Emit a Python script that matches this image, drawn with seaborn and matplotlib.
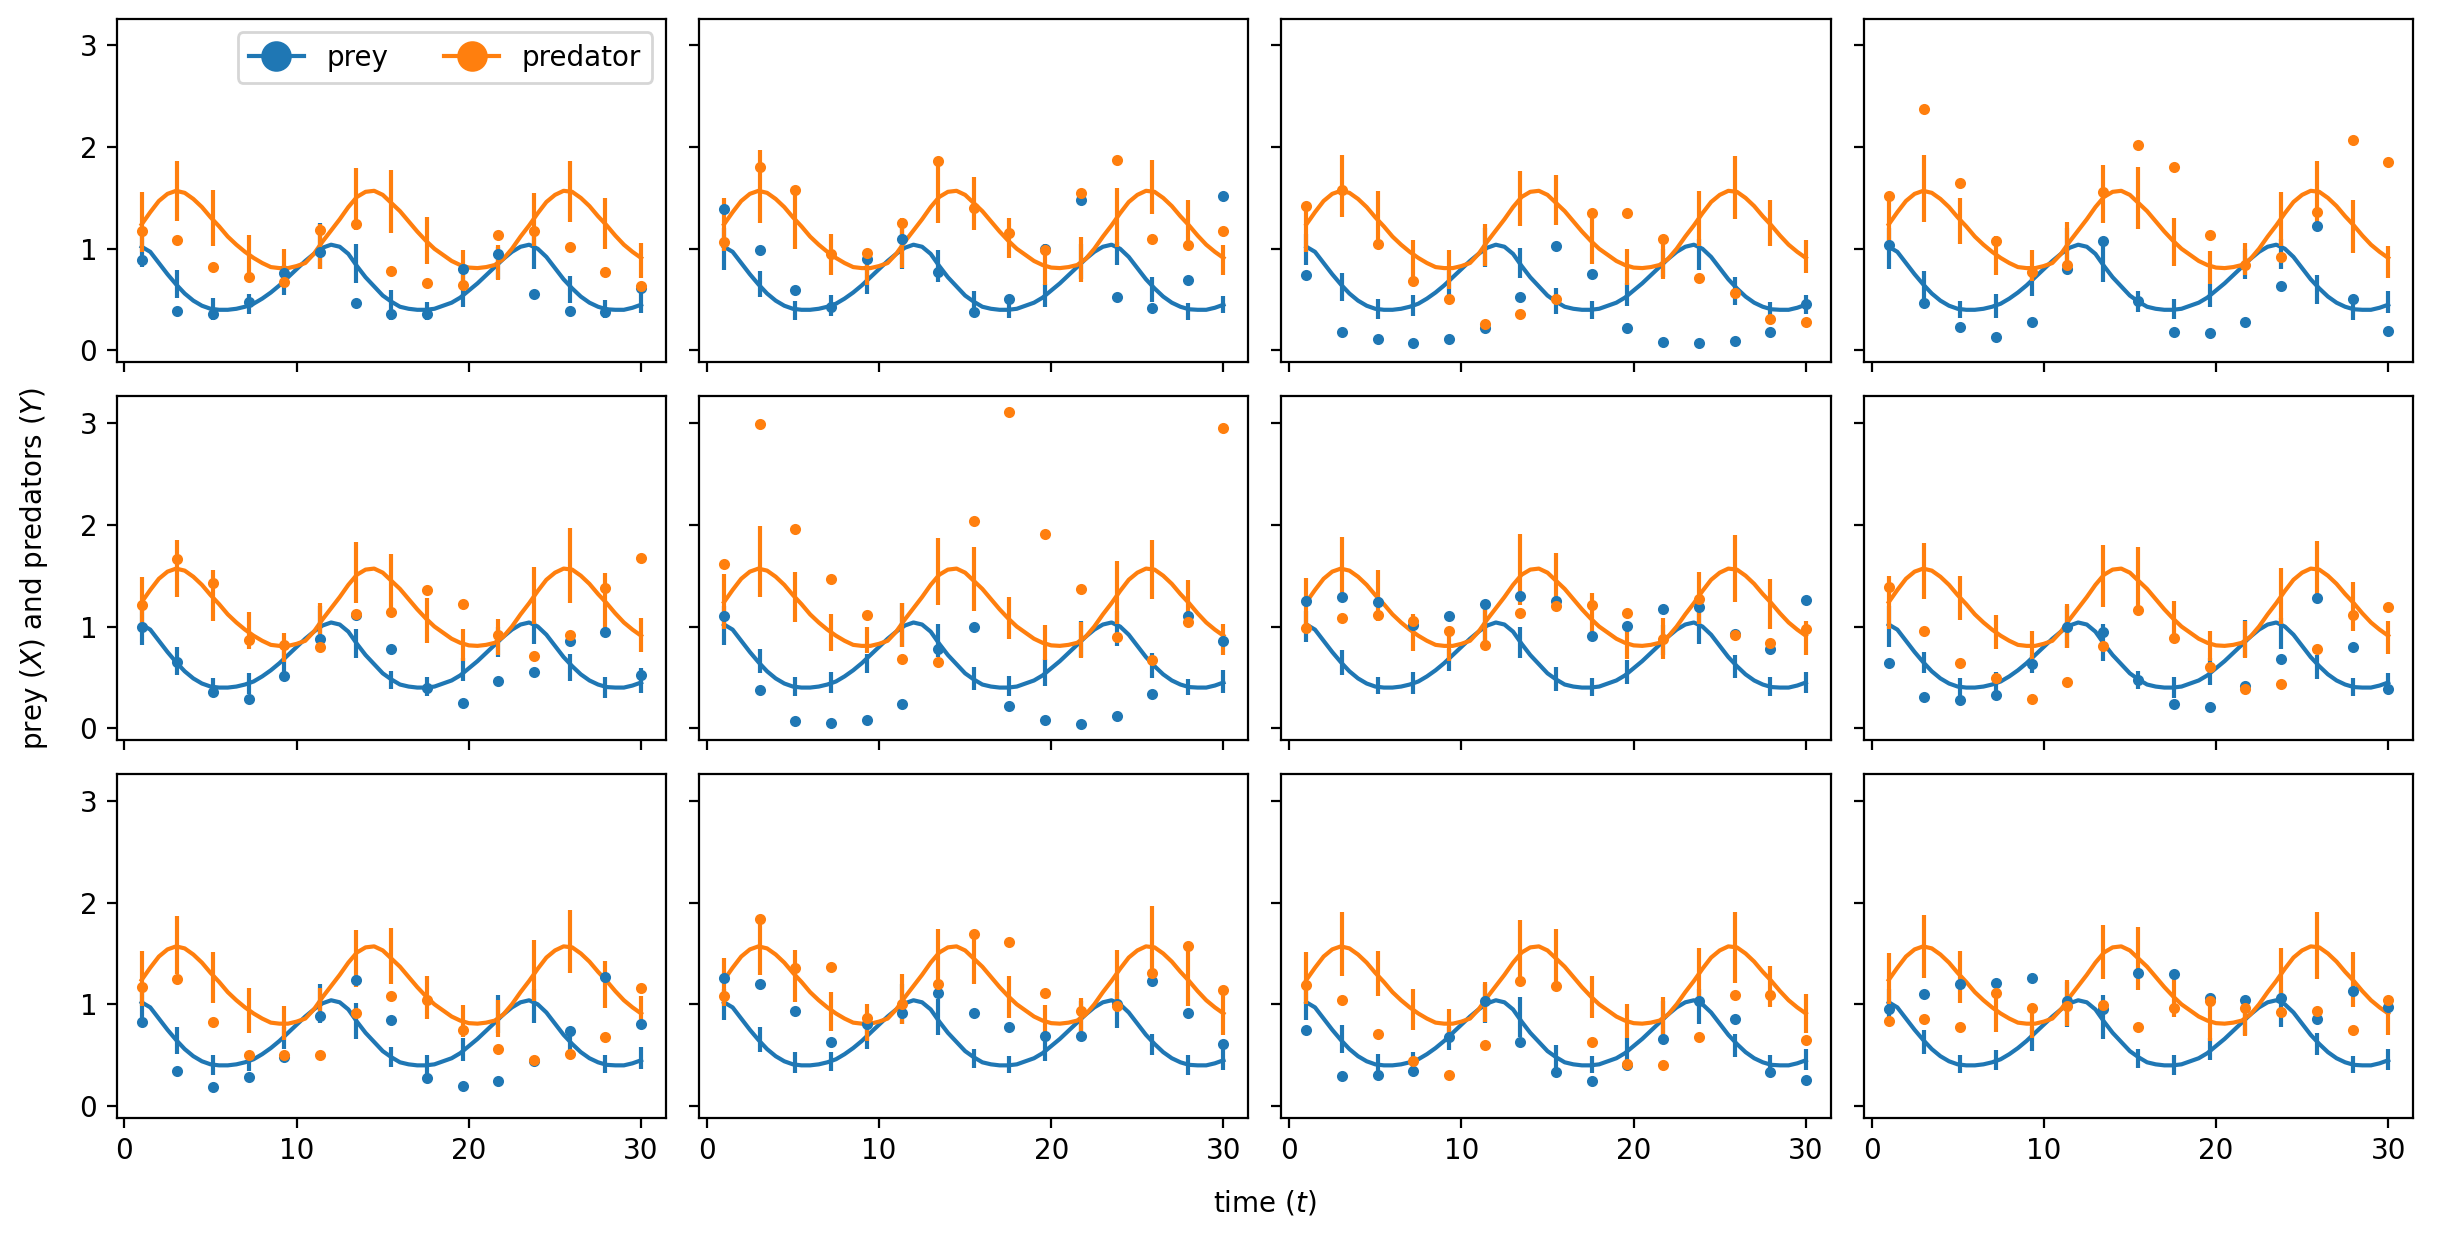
import numpy as np
import matplotlib
matplotlib.use("Agg")
import matplotlib.pyplot as plt
from matplotlib.lines import Line2D
import seaborn as sns

# --- data ------------------------------------------------------------------
# observation times
t_obs = [1.0, 3.07, 5.14, 7.21, 9.29, 11.36, 13.43, 15.5, 17.57, 19.64,
         21.71, 23.79, 25.86, 27.93, 30.0]

# model curve, sampled every 0.5 time units (same in every panel)
t_fine = np.arange(1.0, 30.01, 0.5)
prey_curve = [1.02, 0.97, 0.86, 0.75, 0.65, 0.56, 0.49, 0.44, 0.41, 0.40,
              0.40, 0.41, 0.43, 0.46, 0.51, 0.57, 0.64, 0.72, 0.80, 0.88,
              0.95, 1.01, 1.04, 1.02, 0.95, 0.83, 0.72, 0.63, 0.54, 0.48,
              0.43, 0.41, 0.40, 0.40, 0.41, 0.44, 0.47, 0.52, 0.59, 0.66,
              0.74, 0.82, 0.90, 0.97, 1.02, 1.04, 1.00, 0.92, 0.81, 0.70,
              0.61, 0.53, 0.47, 0.43, 0.405, 0.40, 0.40, 0.42, 0.45]
pred_curve = [1.24, 1.36, 1.47, 1.54, 1.57, 1.55, 1.49, 1.41, 1.31, 1.22,
              1.12, 1.04, 0.97, 0.91, 0.86, 0.82, 0.81, 0.81, 0.83, 0.86,
              0.95, 1.07, 1.18, 1.29, 1.41, 1.51, 1.56, 1.57, 1.53, 1.45,
              1.37, 1.27, 1.17, 1.08, 1.00, 0.94, 0.88, 0.84, 0.815, 0.81,
              0.82, 0.84, 0.90, 1.00, 1.12, 1.23, 1.35, 1.46, 1.53, 1.57,
              1.56, 1.50, 1.42, 1.32, 1.23, 1.13, 1.04, 0.97, 0.91]

# observed points, one list per panel (row by row)
prey_obs = [
    [0.89, 0.39, 0.36, 0.48, 0.76, 0.97, 0.47, 0.36, 0.36, 0.80, 0.95, 0.56, 0.39, 0.38, 0.61],
    [1.39, 0.99, 0.59, 0.43, 0.90, 1.10, 0.77, 0.38, 0.51, 1.00, 1.48, 0.53, 0.42, 0.69, 1.52],
    [0.74, 0.18, 0.11, 0.07, 0.11, 0.22, 0.53, 1.03, 0.75, 0.22, 0.08, 0.07, 0.09, 0.18, 0.46],
    [1.04, 0.47, 0.23, 0.13, 0.28, 0.80, 1.08, 0.49, 0.18, 0.17, 0.28, 0.63, 1.22, 0.51, 0.19],
    [1.00, 0.65, 0.36, 0.29, 0.51, 0.88, 1.11, 0.78, 0.40, 0.25, 0.46, 0.55, 0.86, 0.95, 0.52],
    [1.10, 0.38, 0.07, 0.05, 0.08, 0.24, 0.78, 1.00, 0.22, 0.08, 0.04, 0.12, 0.34, 1.10, 0.86],
    [1.25, 1.29, 1.24, 1.02, 1.10, 1.22, 1.30, 1.25, 0.91, 1.01, 1.17, 1.19, 0.93, 0.78, 1.26],
    [0.64, 0.31, 0.28, 0.33, 0.63, 1.00, 0.95, 0.47, 0.24, 0.21, 0.42, 0.68, 1.28, 0.80, 0.39],
    [0.83, 0.34, 0.19, 0.29, 0.48, 0.89, 1.24, 0.85, 0.28, 0.20, 0.25, 0.44, 0.74, 1.27, 0.81],
    [1.26, 1.20, 0.93, 0.63, 0.81, 0.91, 1.11, 0.91, 0.78, 0.69, 0.69, 1.00, 1.23, 0.91, 0.61],
    [0.75, 0.30, 0.31, 0.34, 0.68, 1.03, 0.63, 0.33, 0.25, 0.40, 0.66, 1.03, 0.86, 0.33, 0.26],
    [0.95, 1.10, 1.20, 1.21, 1.26, 1.03, 0.95, 1.31, 1.30, 1.06, 1.04, 1.06, 0.86, 1.13, 0.97],
]
pred_obs = [
    [1.17, 1.09, 0.82, 0.72, 0.67, 1.18, 1.24, 0.78, 0.66, 0.64, 1.14, 1.17, 1.02, 0.77, 0.63],
    [1.07, 1.80, 1.58, 0.95, 0.96, 1.25, 1.86, 1.40, 1.16, 0.99, 1.55, 1.87, 1.10, 1.04, 1.17],
    [1.42, 1.58, 1.05, 0.68, 0.51, 0.26, 0.36, 0.51, 1.35, 1.35, 1.10, 0.71, 0.57, 0.31, 0.28],
    [1.52, 2.37, 1.65, 1.08, 0.77, 0.84, 1.56, 2.02, 1.80, 1.14, 0.84, 0.92, 1.36, 2.07, 1.85],
    [1.21, 1.66, 1.43, 0.87, 0.82, 0.80, 1.12, 1.14, 1.36, 1.22, 0.92, 0.71, 0.92, 1.38, 1.67],
    [1.62, 2.99, 1.96, 1.47, 1.11, 0.68, 0.65, 2.04, 3.11, 1.91, 1.37, 0.90, 0.67, 1.04, 2.95],
    [0.99, 1.08, 1.11, 1.05, 0.96, 0.82, 1.13, 1.20, 1.21, 1.13, 0.88, 1.27, 0.92, 0.84, 0.98],
    [1.39, 0.96, 0.64, 0.49, 0.29, 0.45, 0.81, 1.16, 0.89, 0.60, 0.39, 0.44, 0.78, 1.11, 1.19],
    [1.17, 1.25, 0.83, 0.50, 0.50, 0.50, 0.91, 1.08, 1.04, 0.75, 0.56, 0.45, 0.51, 0.68, 1.16],
    [1.08, 1.84, 1.36, 1.37, 0.87, 1.00, 1.20, 1.69, 1.61, 1.11, 0.93, 0.98, 1.31, 1.57, 1.14],
    [1.19, 1.04, 0.71, 0.44, 0.31, 0.60, 1.23, 1.18, 0.63, 0.41, 0.40, 0.68, 1.09, 1.09, 0.65],
    [0.84, 0.86, 0.78, 1.11, 0.96, 0.98, 0.99, 0.78, 0.96, 1.03, 0.96, 0.92, 0.93, 0.75, 1.04],
]

# error bar ends per panel
prey_lo = [
    [0.82, 0.52, 0.30, 0.36, 0.55, 0.80, 0.66, 0.30, 0.30, 0.43, 0.70, 0.80, 0.47, 0.32, 0.37],
    [0.79, 0.53, 0.30, 0.34, 0.56, 0.80, 0.67, 0.38, 0.32, 0.43, 0.70, 0.84, 0.48, 0.30, 0.37],
    [0.84, 0.49, 0.31, 0.34, 0.52, 0.82, 0.71, 0.36, 0.31, 0.44, 0.72, 0.79, 0.45, 0.31, 0.36],
    [0.80, 0.51, 0.32, 0.32, 0.54, 0.82, 0.67, 0.38, 0.31, 0.43, 0.70, 0.80, 0.46, 0.30, 0.37],
    [0.82, 0.52, 0.33, 0.34, 0.50, 0.80, 0.69, 0.39, 0.32, 0.46, 0.70, 0.83, 0.46, 0.30, 0.35],
    [0.82, 0.54, 0.32, 0.35, 0.54, 0.80, 0.70, 0.38, 0.32, 0.42, 0.70, 0.81, 0.49, 0.33, 0.35],
    [0.85, 0.52, 0.34, 0.34, 0.56, 0.82, 0.69, 0.37, 0.32, 0.44, 0.72, 0.83, 0.49, 0.32, 0.35],
    [0.80, 0.54, 0.31, 0.36, 0.54, 0.79, 0.66, 0.39, 0.30, 0.43, 0.70, 0.78, 0.48, 0.32, 0.34],
    [0.85, 0.51, 0.31, 0.34, 0.56, 0.82, 0.66, 0.38, 0.31, 0.44, 0.72, 0.82, 0.50, 0.32, 0.36],
    [0.85, 0.53, 0.32, 0.34, 0.56, 0.81, 0.70, 0.37, 0.32, 0.44, 0.66, 0.77, 0.50, 0.31, 0.35],
    [0.85, 0.52, 0.32, 0.34, 0.55, 0.82, 0.68, 0.37, 0.32, 0.44, 0.70, 0.81, 0.48, 0.32, 0.35],
    [0.85, 0.51, 0.32, 0.35, 0.54, 0.78, 0.66, 0.37, 0.31, 0.45, 0.70, 0.78, 0.50, 0.32, 0.35],
]
prey_hi = [
    [1.20, 0.79, 0.52, 0.56, 0.84, 1.25, 1.05, 0.59, 0.48, 0.74, 1.02, 1.20, 0.73, 0.50, 0.63],
    [1.20, 0.78, 0.49, 0.55, 0.85, 1.25, 0.99, 0.58, 0.53, 0.65, 1.05, 1.07, 0.72, 0.47, 0.54],
    [1.15, 0.76, 0.51, 0.55, 0.78, 1.20, 1.01, 0.61, 0.49, 0.66, 1.00, 1.10, 0.72, 0.48, 0.55],
    [1.20, 0.78, 0.49, 0.56, 0.77, 1.20, 1.10, 0.58, 0.51, 0.65, 1.00, 1.10, 0.74, 0.54, 0.58],
    [1.18, 0.80, 0.49, 0.54, 0.76, 1.20, 0.98, 0.56, 0.50, 0.69, 1.00, 1.04, 0.73, 0.50, 0.59],
    [1.20, 0.78, 0.50, 0.55, 0.73, 1.23, 1.03, 0.60, 0.51, 0.68, 1.05, 1.15, 0.74, 0.48, 0.57],
    [1.15, 0.77, 0.50, 0.55, 0.78, 1.20, 1.00, 0.60, 0.49, 0.67, 1.02, 1.18, 0.72, 0.50, 0.55],
    [1.20, 0.75, 0.49, 0.55, 0.72, 1.20, 1.03, 0.56, 0.50, 0.69, 1.06, 1.08, 0.72, 0.49, 0.54],
    [1.15, 0.78, 0.50, 0.54, 0.78, 1.20, 1.01, 0.58, 0.50, 0.67, 1.09, 1.15, 0.73, 0.50, 0.58],
    [1.15, 0.78, 0.53, 0.53, 0.78, 1.20, 1.05, 0.56, 0.49, 0.67, 1.03, 1.12, 0.71, 0.50, 0.58],
    [1.15, 0.80, 0.51, 0.53, 0.78, 1.20, 1.07, 0.60, 0.49, 0.67, 1.03, 1.15, 0.71, 0.50, 0.56],
    [1.15, 0.75, 0.50, 0.55, 0.78, 1.22, 1.09, 0.56, 0.50, 0.67, 1.05, 1.14, 0.72, 0.49, 0.56],
]
pred_lo = [
    [0.97, 1.27, 1.03, 0.70, 0.64, 0.80, 1.18, 1.16, 0.85, 0.64, 0.69, 1.03, 1.26, 1.00, 0.71],
    [0.98, 1.25, 1.00, 0.74, 0.64, 0.81, 1.25, 1.18, 0.91, 0.64, 0.67, 1.02, 1.34, 0.99, 0.74],
    [0.97, 1.31, 1.02, 0.68, 0.60, 0.83, 1.22, 1.23, 0.85, 0.64, 0.70, 1.03, 1.29, 1.03, 0.76],
    [1.00, 1.26, 1.05, 0.74, 0.68, 0.82, 1.25, 1.19, 0.83, 0.65, 0.74, 1.03, 1.25, 0.96, 0.71],
    [1.01, 1.29, 1.05, 0.78, 0.65, 0.82, 1.23, 1.15, 0.84, 0.66, 0.72, 1.03, 1.23, 0.94, 0.75],
    [0.98, 1.29, 1.04, 0.76, 0.74, 0.80, 1.21, 1.15, 0.88, 0.67, 0.69, 1.03, 1.27, 1.00, 0.72],
    [0.98, 1.32, 1.05, 0.76, 0.66, 0.85, 1.21, 1.16, 0.86, 0.68, 0.68, 1.03, 1.24, 0.98, 0.72],
    [0.98, 1.27, 1.06, 0.78, 0.64, 0.79, 1.19, 1.17, 0.87, 0.66, 0.69, 1.03, 1.25, 0.96, 0.73],
    [0.98, 1.30, 1.01, 0.72, 0.65, 0.84, 1.17, 1.20, 0.86, 0.68, 0.68, 1.03, 1.31, 0.96, 0.76],
    [0.98, 1.29, 1.02, 0.74, 0.64, 0.81, 1.18, 1.20, 0.87, 0.66, 0.66, 1.03, 1.25, 0.98, 0.70],
    [1.00, 1.28, 1.08, 0.75, 0.66, 0.83, 1.20, 1.18, 0.87, 0.67, 0.70, 1.03, 1.21, 0.97, 0.72],
    [1.00, 1.26, 1.01, 0.73, 0.67, 0.79, 1.25, 1.14, 0.88, 0.64, 0.69, 1.03, 1.25, 0.97, 0.70],
]
pred_hi = [
    [1.56, 1.86, 1.58, 1.14, 1.00, 1.24, 1.79, 1.77, 1.31, 0.99, 1.04, 1.55, 1.86, 1.50, 1.06],
    [1.50, 1.97, 1.58, 1.15, 1.00, 1.30, 1.86, 1.71, 1.30, 1.05, 1.12, 1.60, 1.87, 1.48, 1.04],
    [1.45, 1.92, 1.57, 1.09, 0.99, 1.24, 1.76, 1.73, 1.36, 1.00, 1.14, 1.57, 1.91, 1.48, 1.09],
    [1.55, 1.92, 1.50, 1.13, 0.99, 1.26, 1.82, 1.80, 1.30, 0.98, 1.06, 1.56, 1.86, 1.48, 1.03],
    [1.49, 1.85, 1.56, 1.14, 0.94, 1.23, 1.83, 1.71, 1.28, 0.98, 1.07, 1.59, 1.97, 1.53, 1.08],
    [1.52, 1.99, 1.54, 1.12, 1.00, 1.23, 1.87, 1.78, 1.29, 1.02, 1.04, 1.64, 1.85, 1.46, 1.03],
    [1.48, 1.88, 1.56, 1.12, 1.00, 1.20, 1.91, 1.72, 1.33, 1.00, 1.08, 1.54, 1.90, 1.47, 1.05],
    [1.50, 1.82, 1.50, 1.11, 0.96, 1.22, 1.80, 1.78, 1.25, 0.96, 1.05, 1.58, 1.84, 1.44, 1.05],
    [1.52, 1.87, 1.51, 1.16, 0.98, 1.16, 1.73, 1.75, 1.28, 0.99, 1.04, 1.63, 1.93, 1.43, 1.08],
    [1.46, 1.84, 1.53, 1.12, 1.00, 1.30, 1.74, 1.69, 1.28, 0.99, 1.06, 1.53, 1.97, 1.57, 1.10],
    [1.51, 1.91, 1.52, 1.15, 0.95, 1.22, 1.83, 1.74, 1.28, 1.00, 1.07, 1.55, 1.91, 1.38, 1.10],
    [1.50, 1.88, 1.52, 1.12, 0.98, 1.24, 1.78, 1.76, 1.30, 1.00, 1.05, 1.55, 1.91, 1.51, 1.05],
]

PREY_C, PRED_C = sns.color_palette("tab10")[:2]

fig, axes = plt.subplots(3, 4, figsize=(12.205, 6.195), dpi=200,
                         sharex=True, sharey=True)
fig.subplots_adjust(left=0.0478, right=0.9886, top=0.985, bottom=0.098,
                    wspace=0.06, hspace=0.1)

for i, ax in enumerate(axes.flat):
    sns.lineplot(x=t_fine, y=prey_curve, color=PREY_C, lw=1.5, ax=ax)
    sns.lineplot(x=t_fine, y=pred_curve, color=PRED_C, lw=1.5, ax=ax)
    ax.vlines(t_obs, prey_lo[i], prey_hi[i], color=PREY_C, lw=1.5)
    ax.vlines(t_obs, pred_lo[i], pred_hi[i], color=PRED_C, lw=1.5)
    sns.scatterplot(x=t_obs, y=prey_obs[i], color=PREY_C, s=16, linewidth=0,
                    zorder=3, ax=ax)
    sns.scatterplot(x=t_obs, y=pred_obs[i], color=PRED_C, s=16, linewidth=0,
                    zorder=3, ax=ax)
    ax.set_xticks([0, 10, 20, 30])
    ax.set_yticks([0, 1, 2, 3])

handles = [Line2D([0], [0], color=PREY_C, marker="o", markersize=10, label="prey"),
           Line2D([0], [0], color=PRED_C, marker="o", markersize=10, label="predator")]
axes[0, 0].legend(handles=handles, loc="upper right", ncol=2)

x_mid = (0.0478 + 0.9886) / 2
y_mid = (0.098 + 0.985) / 2
fig.text(x_mid, 0.029, "time ($t$)", ha="center", va="center", fontsize=10)
fig.text(0.014, y_mid, "prey ($X$) and predators ($Y$)", ha="center", va="center",
         rotation=90, fontsize=10)

fig.savefig("out.png", dpi=200)
